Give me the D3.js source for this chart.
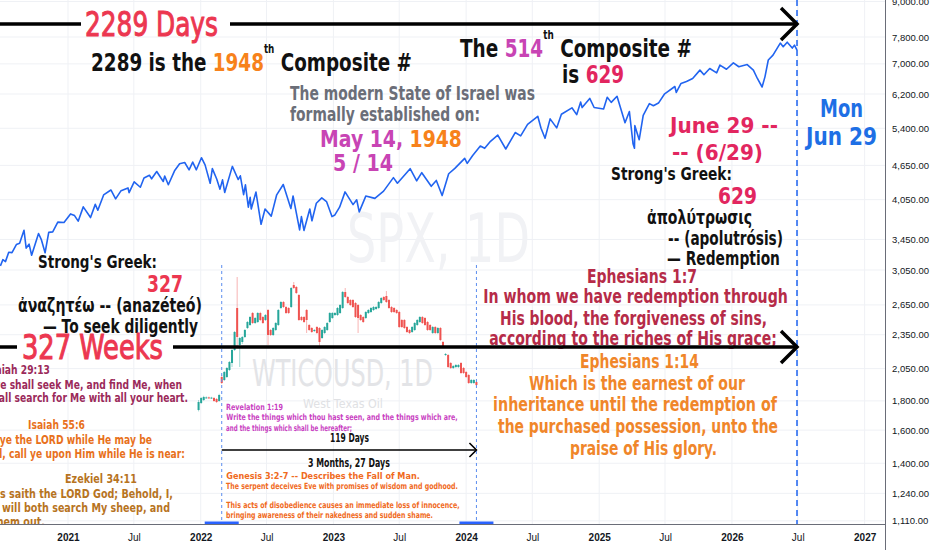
<!DOCTYPE html>
<html><head><meta charset="utf-8">
<script src="https://cdn.jsdelivr.net/npm/d3@7"></script>
<style>html,body{margin:0;padding:0;background:#fff;}svg{display:block;font-family:"DejaVu Sans",sans-serif;}</style>
</head><body><svg id="c" width="932" height="550"></svg>
<script>
// ---------------- DATA ----------------
const xDomain = ["2020-06-28", "2027-02-26"];
const priceDomain = [1096, 9055];
const priceTicks = [9000, 7800, 7000, 6200, 5400, 4650, 4050, 3450, 3050, 2650, 2350, 2050, 1800, 1600, 1400, 1240, 1110];
const timeTicks = ["2021-01-01","2021-07-01","2022-01-01","2022-07-01","2023-01-01","2023-07-01","2024-01-01","2024-07-01","2025-01-01","2025-07-01","2026-01-01","2026-07-01","2027-01-01"];
const spanStart = "2020-03-23", spanEnd = "2026-06-29";   // 2289 days = 327 weeks

const spxSeries = [
["2020-06-29",3100],["2020-07-06",3180],["2020-07-13",3155],["2020-07-22",3276],["2020-07-31",3271],["2020-08-12",3380],["2020-08-21",3397],["2020-09-02",3580],["2020-09-08",3332],["2020-09-16",3385],["2020-09-23",3237],["2020-10-12",3534],["2020-10-20",3443],["2020-10-30",3270],["2020-11-09",3550],["2020-11-20",3557],["2020-12-04",3699],["2020-12-21",3694],
["2021-01-08",3824],["2021-01-19",3798],["2021-01-29",3714],["2021-02-12",3934],["2021-03-04",3768],["2021-03-17",3974],["2021-03-24",3881],["2021-04-09",4128],["2021-04-29",4211],["2021-05-12",4063],["2021-05-27",4200],["2021-06-15",4246],["2021-06-18",4166],["2021-07-02",4352],["2021-07-19",4258],["2021-07-29",4419],["2021-08-13",4468],["2021-08-19",4405],["2021-09-02",4537],["2021-09-20",4358],["2021-09-24",4455],["2021-10-04",4300],["2021-10-21",4549],["2021-11-04",4680],["2021-11-18",4704],["2021-11-30",4567],["2021-12-10",4712],["2021-12-20",4568],
["2022-01-03",4796],["2022-01-13",4659],["2022-01-27",4326],["2022-02-02",4589],["2022-02-14",4401],["2022-02-23",4225],["2022-03-02",4386],["2022-03-08",4170],["2022-03-29",4631],["2022-04-14",4392],["2022-04-20",4459],["2022-04-29",4132],["2022-05-04",4300],["2022-05-12",3930],["2022-05-17",4088],["2022-05-20",3901],["2022-06-02",4176],["2022-06-16",3667],["2022-06-27",3900],["2022-07-14",3790],["2022-07-29",4130],["2022-08-16",4305],["2022-09-06",3908],["2022-09-12",4110],["2022-09-30",3586],["2022-10-05",3783],["2022-10-12",3577],["2022-10-28",3901],["2022-11-03",3720],["2022-11-15",3992],["2022-11-30",4080],["2022-12-13",4019],["2022-12-28",3783],
["2023-01-05",3808],["2023-01-18",3929],["2023-02-02",4179],["2023-02-24",3970],["2023-03-06",4048],["2023-03-13",3855],["2023-03-31",4109],["2023-04-25",4071],["2023-05-19",4192],["2023-06-15",4426],["2023-06-26",4328],["2023-07-31",4589],["2023-08-18",4370],["2023-09-01",4515],["2023-09-27",4274],["2023-10-11",4376],["2023-10-27",4117],["2023-11-14",4496],["2023-12-01",4594],["2023-12-28",4783],
["2024-01-04",4688],["2024-01-19",4840],["2024-02-09",5027],["2024-02-21",4981],["2024-03-08",5124],["2024-03-28",5254],["2024-04-19",4967],["2024-05-15",5308],["2024-05-30",5236],["2024-06-18",5487],["2024-07-16",5667],["2024-07-25",5399],["2024-08-05",5186],["2024-08-19",5608],["2024-09-06",5408],["2024-09-19",5714],["2024-10-18",5864],["2024-10-31",5705],["2024-11-11",6001],["2024-11-15",5870],["2024-12-06",6090],["2024-12-18",5872],
["2025-01-13",5836],["2025-01-23",6119],["2025-02-03",5994],["2025-02-19",6144],["2025-03-13",5521],["2025-03-25",5776],["2025-04-04",5074],["2025-04-08",4982],["2025-04-09",5457],["2025-04-21",5158],["2025-05-02",5686],["2025-05-19",5963],["2025-05-30",5912],["2025-06-13",5977],["2025-06-30",6205],["2025-07-28",6390],["2025-08-01",6238],["2025-08-14",6469],["2025-08-29",6520],["2025-09-15",6600],["2025-10-05",6826],["2025-10-16",6700],["2025-11-01",6870],["2025-11-20",6750],["2025-11-29",6966],["2025-12-17",6850],
["2026-01-05",7030],["2026-01-20",6920],["2026-02-12",6980],["2026-03-01",6826],["2026-03-12",6600],["2026-03-25",6377],["2026-04-02",6650],["2026-04-11",7110],["2026-04-24",7250],["2026-05-14",7612],["2026-05-22",7500],["2026-06-02",7640],["2026-06-16",7461],["2026-06-22",7550],["2026-06-29",7400]
];

// WTI inset candles [open, high, low, close]
const wtiCandles = [
[63.5,68.5,62.8,67.5],[67,70,66.5,69.5],[68.5,70.6,68,70],[69.6,70.3,69.2,69.8],[69.8,70.2,69.1,69.5],[69.5,70.1,69.1,69.7],[69.5,70,67.6,68],[69,69.5,67,67.5],[68,71.6,67.6,71],
[80,81,76.5,77],[78.5,83,78,82.5],[80,85,79.5,84.5],[83.5,88,83,87.5],[87,94,85,93.5],[93.5,103,93,102.5],[114.5,130,95,100],[96,100,85,99.5],[97.5,100.5,96.5,100],[100,104,99.5,103.5],
[104.5,108,104,107.5],[106,110.5,105.5,110],[112,112.5,106.5,107],[107,110,106.5,109.5],[107.5,112.5,107,112],[112,112.6,108,108.5],[110,110.5,106.5,107],[108.5,111.5,108,111],[113.5,114,96,101],[103.5,104,100.5,101],
[101,105,100.5,104.5],[103.5,107.5,103,107],[106,114,105.5,113.5],[114.5,118,114,117.5],[117.5,118,114.5,115],[115,115.5,111.5,112],[114.5,115,111.5,112],[115,125,114.5,124.5],[126,127.5,124,124.5],[125,125.5,121.5,122],
[121,121.5,108,108.5],[110,110.5,108,108.5],[110,110.5,107,107.5],[113.5,114,102,108.5],[106,106.5,103,103.5],[104.5,105,102,102.5],[103,104,102.5,103.5],[105,105.5,101.5,102],[104.5,105,95,97.5],[99.5,104,99,103.5],
[102,105.5,101.5,105],[103.5,107.5,103,107],[107.5,112.5,107,112],[109.5,112.5,109,112],[111,112.5,110.5,112],[111,115,110.5,114.5],[112,116.5,111.5,116],[114.5,123,114,122.5],[122.5,124.5,119.5,120],[120,120.5,116.5,117],
[118.5,119,115.5,116],[118.5,119,114.5,115],[117,117.5,109.5,110],[116,116.5,102,109.5],[111,111.5,108,108.5],[110,110.5,107,107.5],[109.5,113,109,112.5],[112,114,111.5,113.5],[112.5,115,112,114.5],[113.5,115.5,113,115],
[114,115.5,113.5,115],[114.5,118,114,117.5],[117,120,116.5,119.5],[120,120.5,118,118.5],[120.5,123,117,117.5],[118.5,119,114,114.5],[115,115.5,112,112.5],[114.5,115,112,112.5],[113.5,114,111.5,112],[112.5,113,104.5,105],
[108.5,109,104.5,105],[108.5,109,104,104.5],[105,105.5,102,102.5],[103.5,104,101.5,102],[102.5,105.5,102,105],[103.5,107.5,103,107],[106,109,105.5,108.5],[107.5,110.5,107,110],[110,110.5,106.5,107],[109.5,110,105.5,106],
[107.5,108,103,103.5],[106,106.5,103,103.5],[102,105.5,101.5,105],[105,105.5,101.5,102],[102,105,101.5,104.5],[104.5,105,98,98.5],[97.5,98,94.5,95],[91,92,90.5,91.5],[91,91.5,84.5,85],[87,87.5,84,84.5],
[84.5,86,84,85.5],[85,86.5,84.5,86],[85,86.5,84.5,86],[87,87.5,81.5,82],[84.5,85,81.5,82],[82.5,83,79.5,80],[81,81.5,76.5,77],[77,79,76.5,78.5],[77,79,76.5,78.5],[77.5,78,75.5,76]
];
const wtiDomain = [60, 130];
const insetMarks = [9, wtiCandles.length - 1]; // candle indices of the two dashed markers

// ---------------- LAYOUT ----------------
const W = 932, H = 550, plotR = 885, plotB = 524;
const RED="#ec3750", CRM="#e2265f", MAG="#c844b4", ORG="#f7821b", BLK="#111111", GRY="#6b6e78", BLU="#1e6fe5";
const EP7="#b62b48", EP14="#f0862a", ISA1="#9b2a5a", ISA2="#e8711c", EZK="#b7741f", REV="#c93fc2", GEN="#f06a1d";

const svg = d3.select("#c");
svg.append("rect").attr("width", W).attr("height", H).attr("fill", "#fff");

const x = d3.scaleUtc().domain(xDomain.map(d => new Date(d))).range([0, plotR]);
const y = d3.scaleLog().domain(priceDomain).range([plotB, 0]);

svg.append("defs").append("clipPath").attr("id", "plot")
  .append("rect").attr("x", 0).attr("y", 0).attr("width", plotR).attr("height", plotB);
const plot = svg.append("g").attr("clip-path", "url(#plot)");

// grid
plot.append("g").selectAll("line").data(priceTicks).join("line")
  .attr("x1", 0).attr("x2", plotR).attr("y1", d => y(d)).attr("y2", d => y(d))
  .attr("stroke", "#eff1f5").attr("stroke-width", 1);
plot.append("g").selectAll("line").data(timeTicks).join("line")
  .attr("x1", d => x(new Date(d))).attr("x2", d => x(new Date(d))).attr("y1", 0).attr("y2", plotB)
  .attr("stroke", "#eff1f5").attr("stroke-width", 1);

// text helper: fits text into [x1,x2] horizontally, centred on cap-centre yc
function fit(parent, parts, x1, x2, yc, size, o = {}) {
  const g = parent.append("g");
  const t = g.append("text").attr("y", size * 0.36).style("font-size", size + "px")
    .style("font-weight", o.weight || "bold");
  let shift = 0;
  parts.forEach(p => {
    const [str, col, sup] = typeof p === "string" ? [p, o.color] : p;
    const ts = t.append("tspan").attr("fill", col || o.color).text(str);
    if (o.stroke) ts.attr("stroke", col || o.color).attr("stroke-width", o.stroke);
    if (sup) { ts.style("font-size", (size * 0.48) + "px").attr("dy", -size * 0.72); shift = size * 0.72; }
    else if (shift) { ts.attr("dy", shift); shift = 0; }
  });
  const len = t.node().getComputedTextLength();
  let s, tx;
  if (x1 != null && x2 != null) { s = (x2 - x1) / len; t.attr("text-anchor", "middle"); tx = (x1 + x2) / 2; }
  else if (x2 != null) { s = o.s; t.attr("text-anchor", "end"); tx = x2; }
  else { s = o.s; t.attr("text-anchor", "start"); tx = x1; }
  g.attr("transform", `translate(${tx},${yc}) scale(${s},1)`);
  return s;
}

// watermarks
fit(plot, ["SPX, 1D"], 347, 530, 238, 68, {color: "#f1f2f5", weight: "normal"});

// SPX line
const spx = spxSeries.map(([d, v]) => ({date: new Date(d), v}));
plot.append("path").datum(spx)
  .attr("d", d3.line().x(d => x(d.date)).y(d => y(d.v)))
  .attr("fill", "none").attr("stroke", "#2164f0").attr("stroke-width", 1.6).attr("stroke-linejoin", "round");

// ---------------- INSET (WTI) ----------------
const ix = d3.scaleBand().domain(d3.range(wtiCandles.length)).range([197, 478]).padding(0.22);
const iy = d3.scaleLinear().domain(wtiDomain).range([417, 277]);
const icx = i => ix(i) + ix.bandwidth() / 2;
fit(plot, ["WTICOUSD, 1D"], 252, 433, 373, 37, {color: "#e3e4e7", weight: "normal"});
fit(plot, ["West Texas Oil"], 303, 383, 403, 13, {color: "#e0e1e4", weight: "normal"});
const cg = plot.append("g");
cg.selectAll("line").data(wtiCandles).join("line")
  .attr("x1", (d, i) => icx(i)).attr("x2", (d, i) => icx(i))
  .attr("y1", d => iy(d[1])).attr("y2", d => iy(d[2]))
  .attr("stroke", d => d[3] >= d[0] ? "#26a69a" : "#ef5350").attr("stroke-opacity", 0.55).attr("stroke-width", 0.8);
cg.selectAll("rect").data(wtiCandles).join("rect")
  .attr("x", (d, i) => ix(i)).attr("width", ix.bandwidth())
  .attr("y", d => iy(Math.max(d[0], d[3])))
  .attr("height", d => Math.max(1, Math.abs(iy(d[0]) - iy(d[3]))))
  .attr("fill", d => d[3] >= d[0] ? "#26a69a" : "#ef5350");

// inset dashed markers
plot.append("g").selectAll("line").data(insetMarks).join("line")
  .attr("x1", d => icx(d)).attr("x2", d => icx(d)).attr("y1", 265).attr("y2", plotB)
  .attr("stroke", "#5b8def").attr("stroke-width", 1).attr("stroke-dasharray", "3,3");

// main dashed date line
const xEnd = x(new Date(spanEnd)), xStart = x(new Date(spanStart));
plot.append("line").attr("x1", xEnd).attr("x2", xEnd).attr("y1", 0).attr("y2", plotB)
  .attr("stroke", "#2a6cf0").attr("stroke-width", 1.6).attr("stroke-dasharray", "6,4");

// ---------------- TEXT ANNOTATIONS ----------------
const T = plot.append("g");
fit(T, [["2289 is the ", BLK], ["1948", ORG], ["th", BLK, 1], [" Composite #", BLK]], 91, 412, 62, 25);
fit(T, [["The ", BLK], ["514", MAG], ["th", BLK, 1], [" Composite #", BLK]], 460, 692, 48, 25);
fit(T, [["is ", BLK], ["629", CRM]], 562, 624, 74, 25);
fit(T, [["The modern State of Israel was", GRY]], 290, 535, 93, 20);
fit(T, [["formally established on:", GRY]], 290, 480, 114, 20);
fit(T, [["May 14, ", MAG], ["1948", ORG]], 320, 462, 139, 23);
fit(T, [["5 / 14", MAG]], 333, 393, 163, 23);
fit(T, [["June 29 --", CRM]], 670, 778, 125, 22);
fit(T, [["--  (6/29)", CRM]], 672, 763, 152, 22);
fit(T, [["Mon", BLU]], 820, 863, 108, 25);
fit(T, [["Jun 29", BLU]], 806, 877, 136, 25);
fit(T, [["Strong's Greek:", BLK]], 611, 732, 174, 17);
fit(T, [["629", CRM]], 718, 757, 196, 23);
fit(T, [["ἀπολύτρωσις", BLK]], 647, 752, 217, 19);
fit(T, [["-- (apolutrósis)", BLK]], 668, 783, 238, 19);
fit(T, [["— Redemption", BLK]], 667, 780, 258, 19);

fit(T, [["Strong's Greek:", BLK]], 38, 157, 262, 17);
fit(T, [["327", RED]], 147, 183, 284, 23);
fit(T, [["ἀναζητέω -- (anazéteó)", BLK]], 18, 202, 305, 19);
fit(T, [["— To seek diligently", BLK]], 43, 198, 326, 19);

fit(T, [["Ephesians 1:7", EP7]], 587, 697, 276, 19);
fit(T, [["In whom we have redemption through", EP7]], 483, 788, 296, 19);
fit(T, [["His blood, the forgiveness of sins,", EP7]], 500, 767, 318, 19);
fit(T, [["according to the riches of His grace;", EP7]], 489, 777, 338, 19);
fit(T, [["Ephesians 1:14", EP14]], 580, 699, 361, 19);
fit(T, [["Which is the earnest of our", EP14]], 529, 745, 383, 19);
fit(T, [["inheritance until the redemption of", EP14]], 493, 777, 404, 19);
fit(T, [["the purchased possession, unto the", EP14]], 498, 778, 426, 19);
fit(T, [["praise of His glory.", EP14]], 570, 717, 448, 19);

const s2 = fit(T, [["Isaiah 55:6", ISA2]], 28, 85, 424, 13);
fit(T, [["Isaiah 29:13", ISA1]], null, 50, 369, 13, {s: s2});
fit(T, [["And ye shall seek Me, and find Me, when", ISA1]], null, 182, 384, 13, {s: s2});
fit(T, [["ye shall search for Me with all your heart.", ISA1]], null, 188, 397.5, 13, {s: s2});
fit(T, [["Seek ye the LORD while He may be", ISA2]], null, 152, 439, 13, {s: s2});
fit(T, [["found, call ye upon Him while He is near:", ISA2]], null, 185, 453, 13, {s: s2});
const s3 = fit(T, [["Ezekiel 34:11", EZK]], 65, 137, 478, 13);
fit(T, [["For thus saith the LORD God; Behold, I,", EZK]], null, 173, 493, 13, {s: s3});
fit(T, [["even I, will both search My sheep, and", EZK]], null, 170, 507, 13, {s: s3});
fit(T, [["seek them out.", EZK]], null, 45, 521, 13, {s: s3});

fit(T, [["Revelation 1:19", REV]], 226, 283, 406.5, 8.5);
fit(T, [["Write the things which thou hast seen, and the things which are,", REV]], 226, 458, 417, 8.5);
fit(T, [["and the things which shall be hereafter;", REV]], 226, 352, 427.5, 8.5);
fit(T, [["119 Days", BLK]], 330, 369, 438, 12);
fit(T, [["3 Months, 27 Days", BLK]], 308, 390, 462.5, 12);
fit(T, [["Genesis 3:2-7 -- Describes the Fall of Man.", GEN]], 226, 420, 476, 8.5);
fit(T, [["The serpent deceives Eve with promises of wisdom and godhood.", GEN]], 226, 458, 486, 8.5);
fit(T, [["This acts of disobedience causes an immediate loss of innocence,", GEN]], 226, 460, 505, 8.5);
fit(T, [["bringing awareness of their nakedness and sudden shame.", GEN]], 226, 433, 515, 8.5);

// ---------------- ARROWS ----------------
const A = plot.append("g").attr("fill", "none").attr("stroke", "#000").attr("stroke-linecap", "butt");
function arrow(x0, x1, yy, w, head) {
  A.append("line").attr("x1", x0).attr("x2", x1).attr("y1", yy).attr("y2", yy).attr("stroke-width", w);
  A.append("path").attr("d", `M${x1 - head},${yy - head}L${x1},${yy}L${x1 - head},${yy + head}`)
    .attr("stroke-width", w).attr("stroke-linejoin", "miter");
}
arrow(xStart, xEnd, 24, 3.5, 16);
arrow(xStart, xEnd, 347, 3.5, 16);
arrow(icx(insetMarks[0]), icx(insetMarks[1]), 450, 1.6, 7);

// arrow labels with gaps in the line
const L = plot.append("g");
L.append("rect").attr("x", 81).attr("y", 18).attr("width", 149).attr("height", 12).attr("fill", "#fff");
fit(L, [["2289 Days", RED]], 85, 218, 24, 34, {weight: "normal", stroke: 1.1});
L.append("rect").attr("x", 17).attr("y", 341).attr("width", 156).attr("height", 12).attr("fill", "#fff");
fit(L, [["327 Weeks", RED]], 22, 163, 347, 34, {weight: "normal", stroke: 1.1});

// bottom-axis range highlights
plot.append("g").selectAll("rect").data(insetMarks).join("rect")
  .attr("x", d => icx(d) - 17).attr("width", 34).attr("y", plotB - 2.5).attr("height", 3)
  .attr("fill", "#2962ff");

// ---------------- AXES ----------------
const yAxis = d3.axisRight(y).tickValues(priceTicks).tickSize(0).tickPadding(7).tickFormat(d3.format(",.2f"));
const ya = svg.append("g").attr("transform", `translate(${plotR},0)`).call(yAxis);
ya.select(".domain").remove();
ya.selectAll("text").attr("fill", "#131722").style("font-size", "9.5px")
  .style("font-family", "'Liberation Sans Narrow','Liberation Sans',sans-serif");

const xAxis = d3.axisBottom(x).tickValues(timeTicks.map(d => new Date(d))).tickSize(0).tickPadding(9.5)
  .tickFormat(d => d.getUTCMonth() === 0 ? String(d.getUTCFullYear()) : "Jul");
const xa = svg.append("g").attr("transform", `translate(0,${plotB})`).call(xAxis);
xa.select(".domain").remove();
xa.selectAll("text").attr("fill", "#131722").style("font-size", "10px")
  .style("font-family", "'Liberation Sans',sans-serif")
  .style("font-weight", d => d.getUTCMonth() === 0 ? "bold" : "normal");

svg.append("line").attr("x1", 0).attr("x2", plotR).attr("y1", plotB + 0.5).attr("y2", plotB + 0.5)
  .attr("stroke", "#6a6d78").attr("stroke-width", 1);
svg.append("line").attr("x1", plotR + 0.5).attr("x2", plotR + 0.5).attr("y1", 0).attr("y2", H)
  .attr("stroke", "#6a6d78").attr("stroke-width", 1);
</script></body></html>
